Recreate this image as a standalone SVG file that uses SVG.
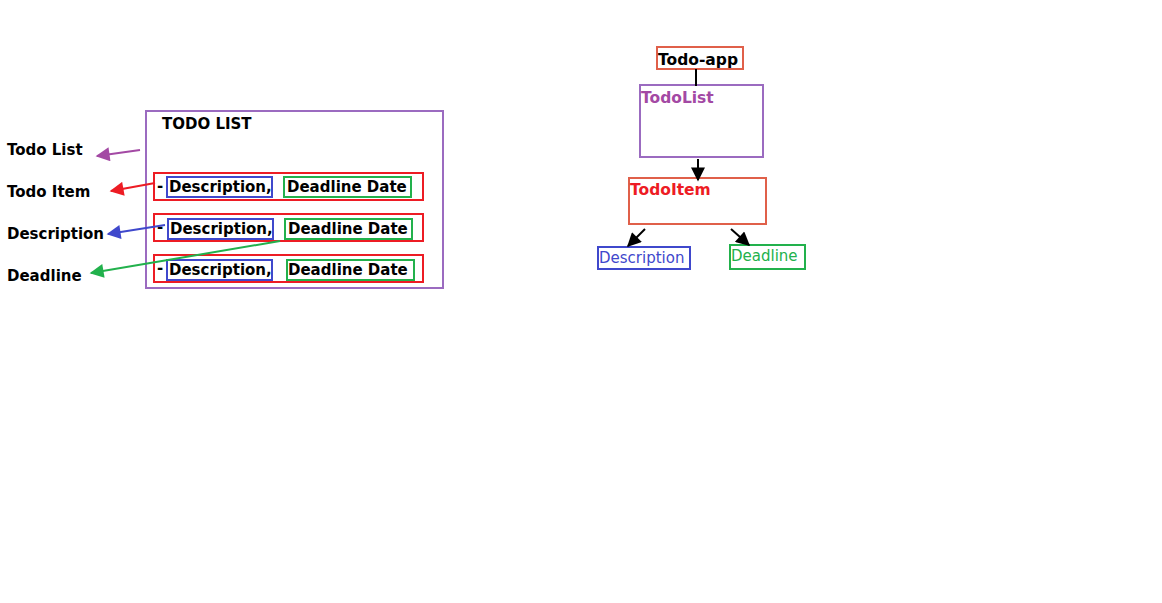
<svg xmlns="http://www.w3.org/2000/svg" width="1162" height="603" viewBox="0 0 1162 603">
<style>
text{font-family:"DejaVu Sans","Verdana",sans-serif;font-weight:bold;font-size:15px;fill:#000}
.box{fill:none;stroke-width:2}
.pu{stroke:#9b6bc0}
.rd{stroke:#ed1c24}
.bl{stroke:#3f48cc}
.gr{stroke:#22b14c}
.or{stroke:#e0604a}
.ln{stroke-width:2;fill:none}
.sm{font-weight:normal;font-size:15px}
</style>
<defs>
<marker id="ap" viewBox="0 0 10 10" refX="9" refY="5" markerWidth="8" markerHeight="7" orient="auto" markerUnits="strokeWidth"><path d="M0,0L10,5L0,10z" fill="#a349a4"/></marker>
<marker id="ar" viewBox="0 0 10 10" refX="9" refY="5" markerWidth="8" markerHeight="7" orient="auto" markerUnits="strokeWidth"><path d="M0,0L10,5L0,10z" fill="#ed1c24"/></marker>
<marker id="ab" viewBox="0 0 10 10" refX="9" refY="5" markerWidth="8" markerHeight="7" orient="auto" markerUnits="strokeWidth"><path d="M0,0L10,5L0,10z" fill="#3f48cc"/></marker>
<marker id="ag" viewBox="0 0 10 10" refX="9" refY="5" markerWidth="8" markerHeight="7" orient="auto" markerUnits="strokeWidth"><path d="M0,0L10,5L0,10z" fill="#22b14c"/></marker>
<marker id="ak" viewBox="0 0 10 10" refX="9" refY="5" markerWidth="8" markerHeight="7" orient="auto" markerUnits="strokeWidth"><path d="M0,0L10,5L0,10z" fill="#000"/></marker>
</defs>
<rect width="1162" height="603" fill="#fff"/>

<g id="labels">
<text x="7" y="155">Todo List</text>
<text x="7" y="197">Todo Item</text>
<text x="7" y="239">Description</text>
<text x="7" y="281">Deadline</text>
</g>

<g id="todo-list-panel">
<rect class="box pu" x="146" y="111" width="297" height="177"/>
<text x="162" y="129">TODO LIST</text>
</g>

<g id="row1">
<rect class="box rd" x="154" y="173" width="269" height="27"/>
<text x="157" y="191">-</text>
<rect class="box bl" x="167" y="177" width="105" height="20"/>
<text x="169" y="192">Description,</text>
<rect class="box gr" x="284" y="177" width="127" height="20"/>
<text x="287" y="192">Deadline Date</text>
</g>
<g id="row2">
<rect class="box rd" x="154" y="214" width="269" height="27"/>
<text x="157" y="232">-</text>
<rect class="box bl" x="168" y="219" width="105" height="20"/>
<text x="170" y="234">Description,</text>
<rect class="box gr" x="285" y="219" width="127" height="20"/>
<text x="288" y="234">Deadline Date</text>
</g>
<g id="row3">
<rect class="box rd" x="154" y="255" width="269" height="27"/>
<text x="157" y="273">-</text>
<rect class="box bl" x="167" y="260" width="105" height="20"/>
<text x="169" y="275">Description,</text>
<rect class="box gr" x="287" y="260" width="127" height="20"/>
<text x="288" y="275">Deadline Date</text>
</g>

<g id="todo-app">
<rect class="box or" x="657" y="47" width="86" height="22"/>
<text x="658" y="65" style="font-size:15.5px">Todo-app</text>
</g>
<g id="todolist">
<rect class="box pu" x="640" y="85" width="123" height="72"/>
<text x="641" y="103" style="fill:#a349a4;font-size:15.5px">TodoList</text>
</g>
<g id="todoitem">
<rect class="box or" x="629" y="178" width="137" height="46"/>
<text x="630" y="195" style="fill:#ed1c24;font-size:15.5px">TodoItem</text>
</g>
<g id="description">
<rect class="box bl" x="598" y="247" width="92" height="22"/>
<text class="sm" x="599" y="263" style="fill:#3f48cc">Description</text>
</g>
<g id="deadline">
<rect class="box gr" x="730" y="245" width="75" height="24"/>
<text class="sm" x="731" y="261" style="fill:#22b14c">Deadline</text>
</g>

<g id="connectors">
<line class="ln" x1="140" y1="150" x2="97" y2="156" stroke="#a349a4" marker-end="url(#ap)"/>
<line class="ln" x1="155" y1="183" x2="111" y2="191" stroke="#ed1c24" marker-end="url(#ar)"/>
<line class="ln" x1="165" y1="225" x2="108" y2="234" stroke="#3f48cc" marker-end="url(#ab)"/>
<line class="ln" x1="280" y1="241" x2="91" y2="273" stroke="#22b14c" marker-end="url(#ag)"/>
<line class="ln" x1="696" y1="69" x2="696" y2="86" stroke="#000"/>
<line class="ln" x1="698" y1="159" x2="698" y2="180" stroke="#000" marker-end="url(#ak)"/>
<line class="ln" x1="645" y1="229" x2="628" y2="246" stroke="#000" marker-end="url(#ak)"/>
<line class="ln" x1="731" y1="229" x2="749" y2="245" stroke="#000" marker-end="url(#ak)"/>
</g>
</svg>
